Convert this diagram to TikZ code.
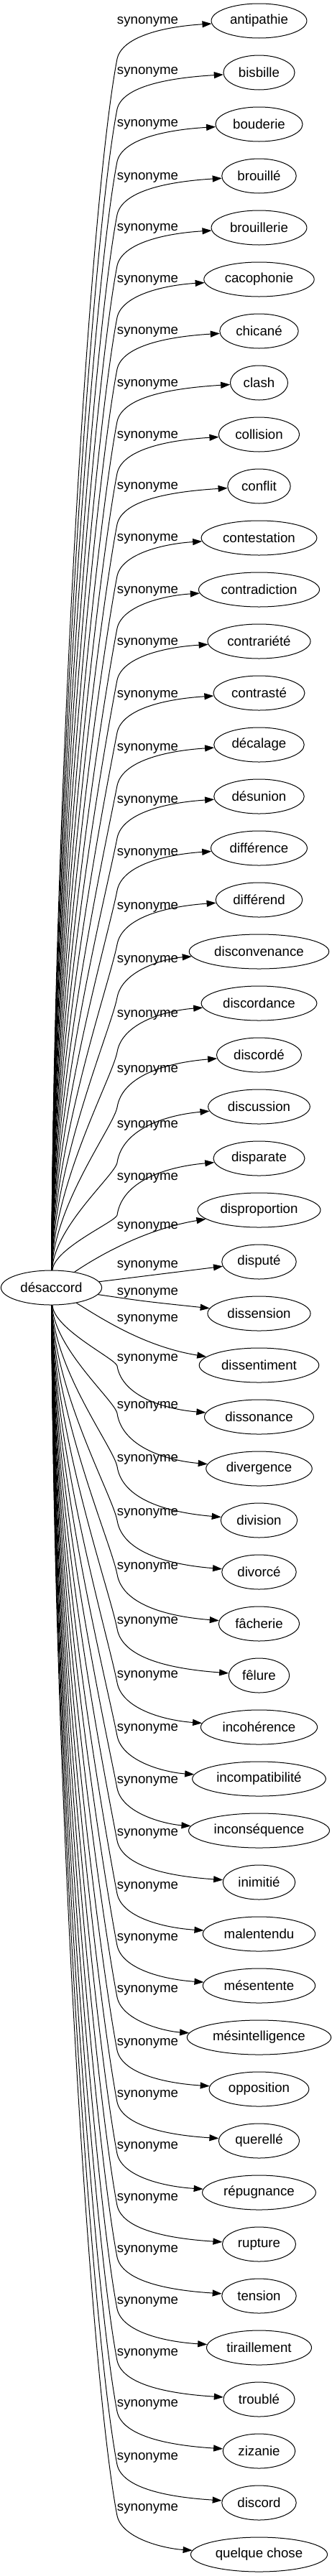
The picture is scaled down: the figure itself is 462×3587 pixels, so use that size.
\documentclass[tikz,border=0pt]{standalone}
\usepackage{fontspec}
\setmainfont{Liberation Sans}
\usetikzlibrary{shapes.geometric,arrows.meta}

\begin{document}
\begin{tikzpicture}[
    x=1pt, y=-1pt,
    font=\fontsize{18.67pt}{22pt}\selectfont,
    word/.style={draw, ellipse, line width=1pt, inner xsep=6.5pt, inner ysep=0pt, minimum height=48pt},
    rel/.style={inner sep=0pt},
    arr/.style={-{Triangle[length=13pt,width=9pt]}, line width=1pt}
  ]
    \useasboundingbox (0,0) rectangle (462,3587);

    % source word
    \node[word] (src) at (71.5,1793) {désaccord};

    % synonyms: index / word / height of the edge label
    \foreach \i/\w/\ly in {0/antipathie/30, 1/bisbille/100, 2/bouderie/173, 3/brouillé/247,
        4/brouillerie/318, 5/cacophonie/390, 6/chicané/462, 7/clash/535, 8/collision/607,
        9/conflit/678, 10/contestation/750, 11/contradiction/823, 12/contrariété/895,
        13/contrasté/968, 14/décalage/1042, 15/désunion/1115, 16/différence/1188,
        17/différend/1263, 18/disconvenance/1337, 19/discordance/1413, 20/discordé/1490,
        21/discussion/1567, 22/disparate/1640, 23/disproportion/1708, 24/disputé/1762,
        25/dissension/1800, 26/dissentiment/1837, 27/dissonance/1892, 28/divergence/1958,
        29/division/2032, 30/divorcé/2107, 31/fâcherie/2182, 32/fêlure/2258,
        33/incohérence/2333, 34/incompatibilité/2407, 35/inconséquence/2480,
        36/inimitié/2553, 37/malentendu/2627, 38/mésentente/2699, 39/mésintelligence/2771,
        40/opposition/2845, 41/querellé/2917, 42/répugnance/2989, 43/rupture/3061,
        44/tension/3133, 45/tiraillement/3205, 46/troublé/3277, 47/zizanie/3348,
        48/discord/3422, 49/quelque chose/3493}{
      \pgfmathsetmacro\ny{29+72*\i}
      \node[word] (syn\i) at (360.5,\ny) {\w};
      \node[rel] (lab\i) at (205.5,\ly) {synonyme};
      % edges going up
      \ifnum\i<23
        \pgfmathsetmacro\by{\ly+52}
        \pgfmathsetmacro\dd{1769-\by}
        \pgfmathsetmacro\ca{1769-0.4*\dd}
        \pgfmathsetmacro\cbx{163-0.0225*\dd}
        \pgfmathsetmacro\cby{\by+0.117*\dd}
        \pgfmathsetmacro\cc{\by-0.6*(\by-\ny)}
        \pgfmathsetmacro\cd{\ny+0.15*(\by-\ny)}
        \draw[arr] (src) .. controls (75,\ca) and (\cbx,\cby) .. (163,\by)
          .. controls (170,\cc) and (230,\cd) .. (syn\i);
      \fi
      % edges going down
      \ifnum\i>26
        \pgfmathsetmacro\by{\ly+10}
        \pgfmathsetmacro\dd{\by-1817}
        \pgfmathsetmacro\ca{1817+0.4*\dd}
        \pgfmathsetmacro\cbx{163-0.0225*\dd}
        \pgfmathsetmacro\cby{\by-0.117*\dd}
        \pgfmathsetmacro\cc{\by+0.6*(\ny-\by)}
        \pgfmathsetmacro\cd{\ny-0.15*(\ny-\by)}
        \draw[arr] (src) .. controls (75,\ca) and (\cbx,\cby) .. (163,\by)
          .. controls (170,\cc) and (230,\cd) .. (syn\i);
      \fi
    }

    % edges close to the source
    \draw[arr] (src) .. controls (135,1750) and (200,1712) .. (syn23);
    \draw[arr] (src) -- (syn24);
    \draw[arr] (src) .. controls (200,1812) .. (syn25);
    \draw[arr] (src) .. controls (140,1835) and (200,1875) .. (syn26);
  \end{tikzpicture}
\end{document}
